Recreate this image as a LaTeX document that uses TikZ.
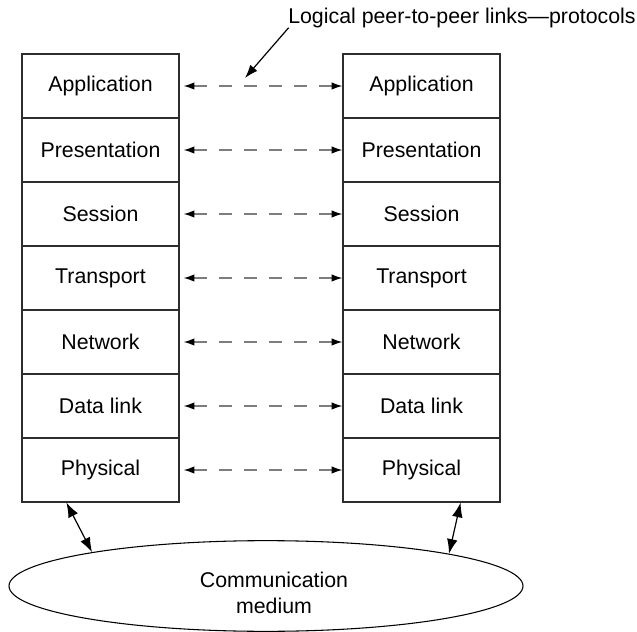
\documentclass[tikz,border=0pt]{standalone}
\usepackage{fontspec}
\setmainfont{Liberation Sans}
\usetikzlibrary{arrows.meta,shapes.geometric}
\definecolor{boxline}{RGB}{45,45,45}
\definecolor{dashgray}{RGB}{125,125,125}

\begin{document}
\begin{tikzpicture}[x=0.75pt,y=-0.75pt,
  layer/.style={draw=boxline, line width=0.9pt, minimum width=117.75pt, minimum height=48pt, inner sep=0pt, font=\fontsize{16}{20}\selectfont},
  peer/.style={dashgray, line width=1pt, dash pattern=on 9.75pt off 9pt,
    {Latex[black,length=8pt,width=5.5pt]}-{Latex[black,length=8pt,width=5.5pt]}},
  medlink/.style={black, line width=0.9pt, {Latex[length=11pt,width=8pt]}-{Latex[length=11pt,width=8pt]}}]
\useasboundingbox (0,0) rectangle (637,632);
% Two protocol stacks
\foreach \name [count=\i] in {Application,Presentation,Session,Transport,Network,Data link,Physical} {
    \node[layer] (L\i) at (100.5,{22+64*\i}) {\name};
    \node[layer] (R\i) at (421.5,{22+64*\i}) {\name};
    \draw[peer] ([xshift=3pt]L\i.east) -- (R\i.west);
}
% Medium
\node[draw, ellipse, line width=0.8pt, minimum width=385.5pt, minimum height=68pt, inner sep=0pt] (medium) at (266,586) {};
\node[align=center, font=\fontsize{16}{20}\selectfont] (mtext) at (274,593) {Communication\\medium};
\draw[medlink] ([xshift=33.75pt]L7.south west) -- (medium.169.8);
\draw[medlink] ([xshift=-30pt]R7.south east) -- (medium.10.2);
% Caption with leader
\node[anchor=base west, inner sep=0pt, font=\fontsize{16}{20}\selectfont] (title) at (288,23) {Logical peer-to-peer links—protocols};
\coordinate (ldrtip) at (245,78);
\draw[line width=0.9pt, -{Latex[length=10pt,width=7pt]}] ([xshift=0.5pt]title.south west) -- (ldrtip);
\end{tikzpicture}
\end{document}
